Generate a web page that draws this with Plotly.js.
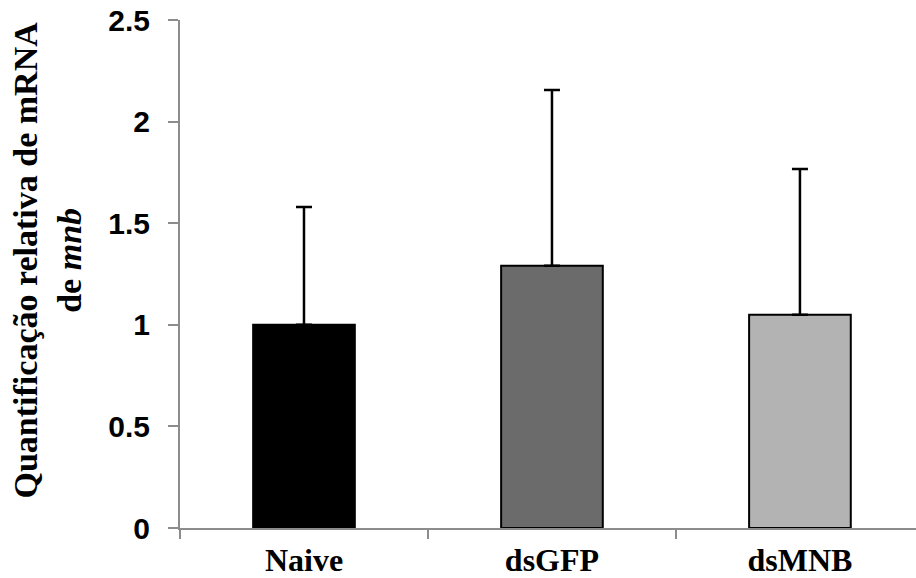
<!DOCTYPE html>
<html>
<head>
<meta charset="utf-8">
<script src="https://cdn.plot.ly/plotly-3.0.1.min.js"></script>
<style>html,body{margin:0;padding:0;background:#fff;overflow:hidden;}</style>
</head>
<body>
<div id="chart" style="width:916px;height:578px;"></div>
<script>
const categories = ["Naive", "dsGFP", "dsMNB"];
const means = [1.0, 1.29, 1.05];
const errors = [0.58, 0.866, 0.717];
const barColors = ["#000000", "#6b6b6b", "#b3b3b3"];
const yTickVals = [0, 0.5, 1, 1.5, 2, 2.5];
const yTickText = ["0", "0.5", "1", "1.5", "2", "2.5"];

const trace = {
  type: "bar",
  x: categories,
  y: means,
  width: 0.41,
  marker: { color: barColors, line: { color: "#000000", width: 2 } },
  error_y: {
    type: "data",
    array: errors,
    arrayminus: [0, 0, 0],
    symmetric: false,
    color: "#000000",
    thickness: 2.5,
    width: 8
  },
  hoverinfo: "skip"
};

const layout = {
  width: 916,
  height: 578,
  margin: { l: 180, r: 0, t: 20, b: 50 },
  paper_bgcolor: "#ffffff",
  plot_bgcolor: "#ffffff",
  showlegend: false,
  xaxis: {
    range: [-0.5, 2.468],
    showline: true,
    linecolor: "#8c8c8c",
    linewidth: 2,
    ticks: "outside",
    tickson: "boundaries",
    ticklen: 9,
    tickwidth: 2,
    tickcolor: "#8c8c8c",
    ticklabelstandoff: 3,
    showgrid: false,
    zeroline: false,
    tickfont: { family: "Liberation Serif, Times New Roman, serif", size: 32, color: "#000000", weight: "bold" }
  },
  yaxis: {
    range: [0, 2.5],
    tickvals: yTickVals,
    ticktext: yTickText,
    showline: true,
    linecolor: "#8c8c8c",
    linewidth: 2,
    ticks: "outside",
    ticklen: 10,
    tickwidth: 2,
    tickcolor: "#8c8c8c",
    ticklabelstandoff: 12,
    showgrid: false,
    zeroline: false,
    tickfont: { family: "Liberation Sans, Arial, sans-serif", size: 30, color: "#000000", weight: "bold" }
  },
  annotations: [{
    text: "<b>Quantificação relativa de mRNA<br>de <i>mnb</i></b>",
    xref: "paper", yref: "paper",
    x: -0.18, y: 0.5276,
    xanchor: "center", yanchor: "middle",
    textangle: -90,
    showarrow: false,
    font: { family: "Liberation Serif, Times New Roman, serif", size: 34, color: "#000000" }
  }]
};

Plotly.newPlot("chart", [trace], layout, { displayModeBar: false, staticPlot: true });
</script>
</body>
</html>
